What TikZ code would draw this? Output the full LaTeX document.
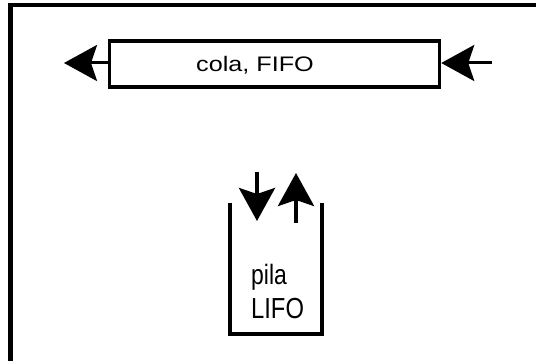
\documentclass[tikz,border=0pt]{standalone}
\usepackage{fontspec}
\setmainfont{Liberation Sans}
\usetikzlibrary{arrows.meta}
\begin{document}
\begin{tikzpicture}[x=1pt,y=-1pt,
  frame/.style={line width=4.5pt},
  boxline/.style={line width=3.5pt},
  arr/.style={line width=3pt,-{Stealth[length=33pt,width=36pt,inset=6pt]}},
  lbl/.style={inner sep=0pt,anchor=base west}]
\useasboundingbox (0,0) rectangle (536,361);
\fill[white] (0,0) rectangle (536,361);
% frame (top and left only)
\coordinate (fbl) at (10.5,361);
\coordinate (ftl) at (10.5,5);
\coordinate (ftr) at (536,5);
\draw[frame] (fbl) -- (ftl) -- (ftr);
% queue
\node[boxline,draw,minimum width=330pt,minimum height=46pt,inner sep=0pt] (cola) at (274.5,64) {};
\node[lbl,xscale=1.2] (colat) at (196,71.5) {\fontsize{21}{25}\selectfont cola, FIFO};
\coordinate (outq) at (64,63);
\coordinate (inq) at (492,63);
\draw[arr] (cola.west |- outq) -- (outq);
\draw[arr] (inq) -- (cola.east |- inq);
% stack
\coordinate (sl) at (230,203);
\coordinate (sbl) at (230,334);
\coordinate (sbr) at (322,334);
\coordinate (sr) at (322,203);
\draw[boxline,line width=4pt] (sl) -- (sbl) -- (sbr) -- (sr);
\coordinate (push0) at (257,172);
\coordinate (push1) at (257,221);
\coordinate (pop0) at (296,223);
\coordinate (pop1) at (296,173);
\draw[arr,line width=4pt] (push0) -- (push1);
\draw[arr,line width=4pt] (pop0) -- (pop1);
\node[lbl,xscale=0.82] (pila) at (251,284) {\fontsize{28}{32}\selectfont pila};
\node[lbl,xscale=0.82] (lifo) at (251,318) {\fontsize{29}{32}\selectfont LIFO};
\end{tikzpicture}
\end{document}
